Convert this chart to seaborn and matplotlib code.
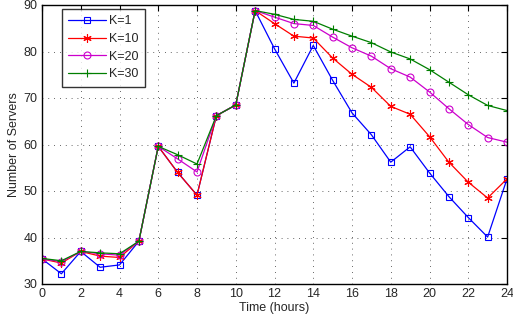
import matplotlib
matplotlib.use('Agg')
import matplotlib.pyplot as plt
import pandas as pd
import seaborn as sns

# Data
hours = list(range(25))
k1 = [35.4, 32.2, 37.0, 33.6, 34.1, 39.2, 59.6, 54.0, 49.1, 66.2, 68.5, 88.8,
      80.6, 73.2, 81.3, 73.8, 66.8, 62.1, 56.2, 59.5, 53.9, 48.8, 44.3, 40.1, 52.6]
k10 = [35.4, 34.5, 37.0, 36.0, 35.7, 39.2, 59.6, 54.0, 49.1, 66.2, 68.5, 88.8,
       86.0, 83.3, 82.9, 78.6, 75.1, 72.3, 68.2, 66.5, 61.7, 56.2, 51.9, 48.5, 52.6]
k20 = [35.4, 34.8, 37.0, 36.5, 36.2, 39.2, 59.6, 56.9, 54.1, 66.2, 68.5, 88.8,
       87.4, 86.0, 85.6, 83.1, 80.8, 79.0, 76.3, 74.5, 71.3, 67.7, 64.3, 61.5, 60.5]
k30 = [35.5, 35.0, 37.0, 36.7, 36.5, 39.2, 59.6, 57.8, 55.8, 66.2, 68.5, 88.8,
       88.0, 86.9, 86.5, 84.8, 83.3, 81.9, 79.9, 78.4, 76.1, 73.4, 70.7, 68.4, 67.3]
labels = ['K=1', 'K=10', 'K=20', 'K=30']

sns.set_style('white')
plt.rcParams['font.family'] = ['Liberation Sans', 'DejaVu Sans']

fig = plt.figure(figsize=(5.13, 3.21), dpi=100)
ax = fig.add_axes([42 / 513, 1 - 284 / 321, 465 / 513, 279 / 321])

styles = [
    dict(color='#0000ff', marker='s', markerfacecolor='none', markersize=4),
    dict(color='#ff0000', marker=(6, 2, 0), markersize=6),
    dict(color='#cc00cc', marker='o', markerfacecolor='none', markersize=5),
    dict(color='#007f00', marker='+', markersize=5.5),
]
for vals, lab, st in zip([k1, k10, k20, k30], labels, styles):
    df = pd.DataFrame({'Time': hours, 'Servers': vals})
    sns.lineplot(data=df, x='Time', y='Servers', ax=ax, label=lab,
                 linewidth=0.9, markeredgewidth=0.8,
                 markeredgecolor=st['color'], **st)

ax.set_xlim(0, 24)
ax.set_ylim(30, 90)
ax.set_xticks(range(0, 25, 2))
ax.set_yticks(range(30, 91, 10))
ax.grid(True, color='#333333', linestyle=(0, (1, 6)), linewidth=0.6)
ax.tick_params(direction='in', length=4, labelsize=9, top=True, right=True,
               color='black', pad=3)
for s in ax.spines.values():
    s.set_color('black')
    s.set_linewidth(1.0)
ax.set_xlabel('Time (hours)', fontsize=9, labelpad=1)
ax.set_ylabel('Number of Servers', fontsize=9, labelpad=3)

leg = ax.legend(loc='upper left', bbox_to_anchor=(0.043, 0.985), fontsize=9,
                frameon=True, fancybox=False, edgecolor='black', numpoints=1,
                handlelength=3.0, handletextpad=0.3, labelspacing=0.45,
                borderpad=0.5, borderaxespad=0)
leg.get_frame().set_linewidth(1.0)

fig.savefig('out.png', dpi=100)
